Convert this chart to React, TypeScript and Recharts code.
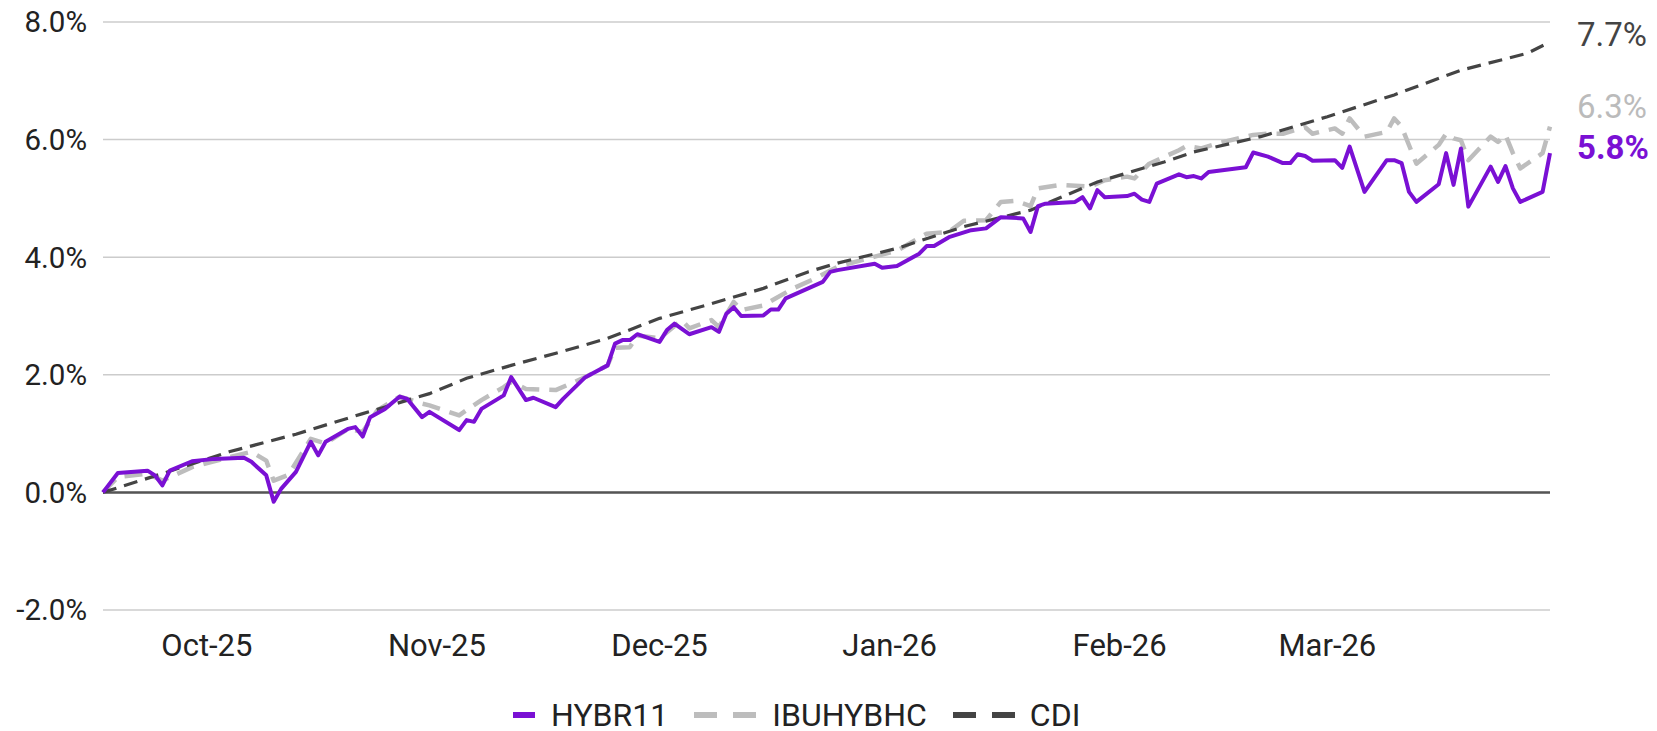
import React from 'react';
import { LineChart, Line, XAxis, YAxis, CartesianGrid, ReferenceLine, Legend, LabelList } from 'recharts';

// x = days since 2025-09-17
const monthTickDays = [14, 45, 75, 106, 137, 165];
const monthTickLabels = ['Oct-25', 'Nov-25', 'Dec-25', 'Jan-26', 'Feb-26', 'Mar-26'];
const yTicks = [-2, 0, 2, 4, 6, 8];

const hybrDays = [0, 2, 6, 7, 8, 9, 12, 15, 19, 20, 22, 23, 24, 26, 28, 29, 30, 33, 34, 35, 36, 38, 40, 41, 43, 44, 48, 49, 50, 51, 54, 55, 57, 58, 61, 62, 65, 68, 69, 70, 71, 72, 75, 76, 77, 79, 82, 83, 84, 85, 86, 89, 90, 91, 92, 97, 98, 99, 104, 105, 107, 110, 111, 112, 114, 117, 119, 121, 124, 125, 126, 127, 131, 132, 133, 134, 135, 138, 139, 140, 141, 142, 145, 146, 147, 148, 149, 154, 155, 157, 159, 160, 161, 162, 163, 166, 167, 168, 170, 173, 174, 175, 176, 177, 180, 181, 182, 183, 184, 187, 188, 189, 190, 191, 194, 195];
const hybrValues = [0, 0.33, 0.37, 0.29, 0.12, 0.37, 0.53, 0.57, 0.59, 0.52, 0.29, -0.16, 0.06, 0.35, 0.86, 0.63, 0.86, 1.08, 1.11, 0.95, 1.28, 1.42, 1.63, 1.59, 1.28, 1.37, 1.06, 1.23, 1.2, 1.42, 1.65, 1.96, 1.57, 1.61, 1.45, 1.59, 1.96, 2.16, 2.53, 2.59, 2.59, 2.69, 2.56, 2.76, 2.87, 2.69, 2.81, 2.73, 3.04, 3.15, 3.0, 3.01, 3.11, 3.11, 3.3, 3.58, 3.75, 3.78, 3.89, 3.82, 3.85, 4.06, 4.19, 4.19, 4.34, 4.46, 4.49, 4.68, 4.66, 4.43, 4.87, 4.91, 4.94, 5.02, 4.83, 5.14, 5.02, 5.04, 5.08, 4.98, 4.94, 5.25, 5.41, 5.36, 5.38, 5.34, 5.45, 5.53, 5.78, 5.71, 5.6, 5.6, 5.75, 5.72, 5.64, 5.65, 5.52, 5.88, 5.11, 5.65, 5.65, 5.6, 5.11, 4.94, 5.24, 5.77, 5.23, 5.85, 4.86, 5.54, 5.28, 5.55, 5.17, 4.94, 5.11, 5.77];

const ibuDays = [0, 2, 6, 8, 12, 18, 20, 22, 23, 25, 28, 30, 33, 35, 37, 40, 43, 44, 48, 49, 51, 54, 55, 57, 61, 65, 68, 69, 71, 72, 75, 78, 79, 82, 83, 85, 86, 89, 93, 96, 99, 104, 107, 111, 114, 116, 119, 121, 123, 125, 126, 129, 133, 135, 138, 139, 141, 145, 146, 148, 150, 155, 157, 159, 162, 163, 166, 167, 168, 170, 173, 174, 175, 177, 180, 181, 182, 183, 184, 187, 188, 189, 190, 191, 194, 195];
const ibuValues = [0, 0.26, 0.32, 0.2, 0.43, 0.63, 0.69, 0.54, 0.2, 0.3, 0.91, 0.83, 1.08, 1.03, 1.4, 1.63, 1.51, 1.48, 1.31, 1.4, 1.57, 1.79, 1.88, 1.76, 1.74, 1.96, 2.16, 2.46, 2.47, 2.67, 2.62, 2.93, 2.79, 2.93, 2.81, 3.24, 3.1, 3.18, 3.47, 3.64, 3.84, 4.01, 4.11, 4.4, 4.43, 4.62, 4.63, 4.94, 4.96, 4.87, 5.17, 5.23, 5.2, 5.31, 5.37, 5.34, 5.59, 5.82, 5.89, 5.85, 5.93, 6.08, 6.1, 6.1, 6.21, 6.1, 6.19, 6.1, 6.36, 6.05, 6.13, 6.36, 6.22, 5.59, 5.91, 6.1, 6.02, 5.99, 5.65, 6.05, 5.96, 6.08, 5.77, 5.51, 5.77, 6.22];

const cdiDays = [0, 8, 17, 26, 35, 44, 49, 55, 62, 68, 75, 82, 89, 95, 99, 107, 116, 125, 134, 143, 147, 156, 165, 174, 183, 192, 195];
const cdiValues = [0, 0.32, 0.69, 0.99, 1.34, 1.68, 1.94, 2.16, 2.4, 2.62, 2.96, 3.21, 3.47, 3.75, 3.9, 4.15, 4.52, 4.8, 5.28, 5.62, 5.79, 6.05, 6.39, 6.76, 7.18, 7.47, 7.66];

const endLabels = ['5.8%', '6.3%', '7.7%'];

const PURPLE = '#7A10D4';
const LIGHT = '#BDBDBD';
const DARK = '#444444';

const hybrData = hybrDays.map((d, i) => ({ d, v: hybrValues[i] }));
const ibuData = ibuDays.map((d, i) => ({ d, v: ibuValues[i] }));
const cdiData = cdiDays.map((d, i) => ({ d, v: cdiValues[i] }));

const FONT = 'Roboto, "Noto Sans", sans-serif';

const makeEndLabel = (lastIndex: number, text: string, color: string, dy: number, bold: boolean) => (p: any) => {
  if (p.index !== lastIndex) return null;
  return (
    <text
      x={Number(p.x) + 27}
      y={Number(p.y) + dy}
      fill={color}
      fontSize={33}
      fontFamily={FONT}
      fontWeight={bold ? 700 : 400}
      stroke="#fff"
      strokeWidth={4}
      paintOrder="stroke"
      textAnchor="start"
    >
      {text}
    </text>
  );
};

const LegendContent = () => (
  <div style={{ display: 'flex', alignItems: 'center', height: 32, paddingLeft: 513, fontFamily: FONT, fontSize: 32, lineHeight: '32px', color: '#222', whiteSpace: 'nowrap' }}>
    <svg width={22} height={8} style={{ marginRight: 16 }}>
      <rect x={0} y={1} width={22} height={6} fill={PURPLE} />
    </svg>
    <span style={{ marginRight: 26 }}>HYBR11</span>
    <svg width={62} height={8} style={{ marginRight: 16 }}>
      <rect x={0} y={1} width={23} height={6} fill={LIGHT} />
      <rect x={39} y={1} width={23} height={6} fill={LIGHT} />
    </svg>
    <span style={{ marginRight: 26 }}>IBUHYBHC</span>
    <svg width={62} height={8} style={{ marginRight: 15 }}>
      <rect x={0} y={1} width={23} height={6} fill={DARK} />
      <rect x={39} y={1} width={23} height={6} fill={DARK} />
    </svg>
    <span>CDI</span>
  </div>
);

export default function App() {
  return (
    <div style={{ position: 'absolute', left: 0, top: 0, width: 1657, height: 731, background: '#fff' }}>
      <LineChart width={1657} height={731} margin={{ top: 22, right: 107, bottom: 0, left: 0 }}>
        <CartesianGrid horizontal vertical={false} stroke="#CCCCCC" strokeWidth={1.5} />
        <XAxis
          type="number"
          dataKey="d"
          domain={[0, 195]}
          ticks={monthTickDays}
          tickFormatter={(v: number) => monthTickLabels[monthTickDays.indexOf(v)] ?? ''}
          axisLine={false}
          tickLine={false}
          tickSize={0}
          tickMargin={24}
          height={89}
          interval={0}
          allowDuplicatedCategory={false}
          tick={{ fill: '#222', fontSize: 31, fontFamily: FONT }}
        />
        <YAxis
          type="number"
          domain={[-2, 8]}
          ticks={yTicks}
          tickFormatter={(v: number) => `${v.toFixed(1)}%`}
          axisLine={false}
          tickLine={false}
          tickSize={0}
          tickMargin={16}
          width={103}
          interval={0}
          tick={{ fill: '#222', fontSize: 29.5, fontFamily: FONT }}
        />
        <ReferenceLine y={0} stroke="#555555" strokeWidth={2.5} />
        <Legend verticalAlign="bottom" height={32} content={LegendContent} wrapperStyle={{ left: 0, width: 1657, height: 32, bottom: 0 }} />
        <Line data={ibuData} dataKey="v" name="IBUHYBHC" stroke={LIGHT} strokeWidth={4.5} strokeDasharray="18 10" dot={false} activeDot={false} isAnimationActive={false} strokeLinejoin="round">
          <LabelList dataKey="v" content={makeEndLabel(ibuData.length - 1, endLabels[1], '#BBBBBB', -9, false)} />
        </Line>
        <Line data={cdiData} dataKey="v" name="CDI" stroke={DARK} strokeWidth={3.2} strokeDasharray="14 8" dot={false} activeDot={false} isAnimationActive={false}>
          <LabelList dataKey="v" content={makeEndLabel(cdiData.length - 1, endLabels[2], DARK, 4, false)} />
        </Line>
        <Line data={hybrData} dataKey="v" name="HYBR11" stroke={PURPLE} strokeWidth={4} dot={false} activeDot={false} isAnimationActive={false} strokeLinejoin="round">
          <LabelList dataKey="v" content={makeEndLabel(hybrData.length - 1, endLabels[0], PURPLE, 6, true)} />
        </Line>
      </LineChart>
    </div>
  );
}
